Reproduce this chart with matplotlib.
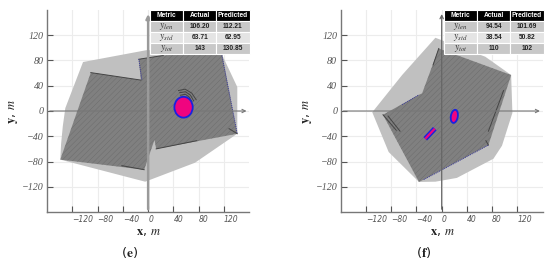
import matplotlib
matplotlib.use("Agg")
import matplotlib.pyplot as plt
from matplotlib.patches import Polygon, Ellipse
plt.rcParams['mathtext.fontset'] = 'stix'
plt.rcParams['hatch.linewidth'] = 0.3
W, H = 550, 263
ticks = [-120, -80, -40, 0, 40, 80, 120]
metrics = [r'$y_{len}$', r'$y_{std}$', r'$y_{tot}$']
columns = ['Metric', 'Actual', 'Predicted']
actual_e = ['106.20', '63.71', '143']
pred_e = ['112.21', '62.95', '130.85']
actual_f = ['94.54', '38.54', '110']
pred_f = ['101.69', '50.82', '102']
outer_e = [(-139,-77),(-4.7,-112),(74,-82),(141,-36),(141,38),(116,91),(-2,96.5),(-103,77.6),(-131,4.7),(-135,-24),(-137.7,-52)]
inner_e = [(-90.7,60.8),(-11.6,49),(-14.8,82),(24,88),(116,95),(141,-36),(12.7,-60),(10,-45.7),(-6.3,-93),(-139,-77)]
walls_e = [[(-90.7,60.8),(-11.6,49)],[(-41.6,-86.6),(-6.3,-93)],[(12.7,-60),(77,-47)],[(-14.8,82),(24,88)],[(128,-28),(141,-36)],
           [(48,32.4),(58.5,34.6),(69,28.3),(76,17.8)],[(50,29),(59,30.5),(67,25),(72,16)],[(51,25),(59,26.5),(65,22),(69,15)]]
blue_e = [[(-14.8,82),(-10,50)],[(116,91),(141,-36)]]
outer_f = [(-10,116),(69,86),(110,57),(112,-3),(95.5,-55),(82,-75.6),(24,-106),(-10,-112),(-36,-112.4),(-84,-65),(-110,-2),(-62.7,57)]
inner_f = [(-4.7,99),(110,57),(74,-54),(-28.5,-108.7),(-36,-112.4),(-93,-6),(-36,25.7),(-31,28)]
walls_f = [[(-4.7,99),(-13.6,73)],[(-93,-6),(-72,-30.5)],[(-85,-8),(-66,-32)],[(98,32.4),(74,-32)],[(70,-47),(74,-54)]]
blue_f = [[(-62.7,10),(-36,25.7)],[(-28.5,-108.7),(74,-54)]]
bar_f = [(-26,-44),(-11,-28)]

fig = plt.figure(figsize=(5.5, 2.63), dpi=100)
def box(x0, x1, y0, y1):
    return [x0/W, 1-y1/H, (x1-x0)/W, (y1-y0)/H]

def panel(rect, outer, inner, walls, blue, actual, pred, tbl, vlw, vcol):
    ax = fig.add_axes(box(*rect))
    ax.set_xlim(-160, 160); ax.set_ylim(-160, 160)
    ax.grid(color='#ececec', lw=0.8); ax.set_axisbelow(True)
    for s in ('top', 'right'): ax.spines[s].set_visible(False)
    for s in ('left', 'bottom'):
        ax.spines[s].set_color('#777777'); ax.spines[s].set_linewidth(1.0)
    ax.set_xticks(ticks); ax.set_yticks(ticks)
    ax.set_xticklabels([str(t).replace('-', '\u2212') for t in ticks], ha='left', family='DejaVu Sans', style='oblique', fontsize=5.5, color='#555555')
    ax.set_yticklabels([str(t).replace('-', '\u2212') for t in ticks], family='Liberation Serif', style='italic', fontsize=7.2, color='#555555')
    ax.tick_params(direction='in', length=4, width=0.8, color='#555555', pad=2.5)
    ax.add_patch(Polygon(outer, fc='#c0c0c0', ec='none', zorder=1))
    ax.add_patch(Polygon(inner, fc='#808080', ec='#6a6a6a', hatch='//////', lw=0, zorder=2))
    for w in walls:
        ax.plot(*zip(*w), color='#444444', lw=0.7, zorder=3)
    for w in blue:
        ax.plot(*zip(*w), color='#3b3b9a', lw=0.7, ls=(0, (1, 1)), zorder=3)
    ax.annotate('', xy=(160, 0), xytext=(-160, 0), arrowprops=dict(arrowstyle='->', color='#777777', lw=0.8, mutation_scale=6), zorder=4)
    ax.annotate('', xy=(0, 158), xytext=(0, -160), arrowprops=dict(arrowstyle='->', color=vcol, lw=vlw, mutation_scale=6), zorder=4)
    rows = [[m, a, p] for m, a, p in zip(metrics, actual, pred)]
    t = ax.table(cellText=rows, colLabels=columns, bbox=[(tbl-rect[0])/(rect[1]-rect[0]), 1-(54-rect[2])/(rect[3]-rect[2]), 99.5/(rect[1]-rect[0]), 44/(rect[3]-rect[2])], zorder=6)
    t.auto_set_font_size(False)
    cols = {1: '#c8c8c8', 2: '#e4e4e4', 3: '#c8c8c8'}
    for (r, c), cell in t.get_celld().items():
        cell.set_edgecolor('white'); cell.set_linewidth(0.8)
        txt = cell.get_text(); txt.set_ha('center'); txt.set_family('Liberation Sans')
        if r == 0:
            cell.set_facecolor('black'); txt.set_color('white'); txt.set_fontsize(4.8)
            txt.set_fontweight('bold')
        else:
            cell.set_facecolor(cols[r]); txt.set_fontsize(4.8); txt.set_color('#222222')
            if c: txt.set_fontweight('bold')
            else: txt.set_fontsize(7); txt.set_color('#333333')
    return ax

ax_e = panel((47, 249.3, 10, 212), outer_e, inner_e, walls_e, blue_e, actual_e, pred_e, 150, 1.8, '#9a9a9a')
ax_e.add_patch(Ellipse((56, 6), 29, 33, fc='#f0047f', ec='#1a22e0', lw=1.3, zorder=5))

ax_f = panel((340.7, 542.7, 10, 212), outer_f, inner_f, walls_f, blue_f, actual_f, pred_f, 444, 0.9, '#666666')
ax_f.add_patch(Ellipse((20, -8.5), 11, 21, angle=-10, fc='#f0047f', ec='#1a22e0', lw=1.3, zorder=5))
ax_f.plot(*zip(*bar_f), color='#1a22e0', lw=3.6, solid_capstyle='butt', zorder=5)
ax_f.plot(*zip(*bar_f), color='#f0047f', lw=1.6, solid_capstyle='butt', zorder=6)

def label(px, py, s, **kw):
    fig.text(px/W, 1-py/H, s, ha='center', va='center', color='#222222', **kw)
for x0, xl, cap, capx in ((14, 148, r'($\mathbf{e}$)', 130), (307.7, 442, r'($\mathbf{f}$)', 424)):
    label(x0, 112, r'$\mathbf{y}$, $\mathit{m}$', fontsize=9, rotation=90)
    label(xl, 231, r'$\mathbf{x}$, $\mathit{m}$', fontsize=9)
    label(capx, 253, cap, fontsize=9.5)
fig.savefig('out.png', dpi=100)
